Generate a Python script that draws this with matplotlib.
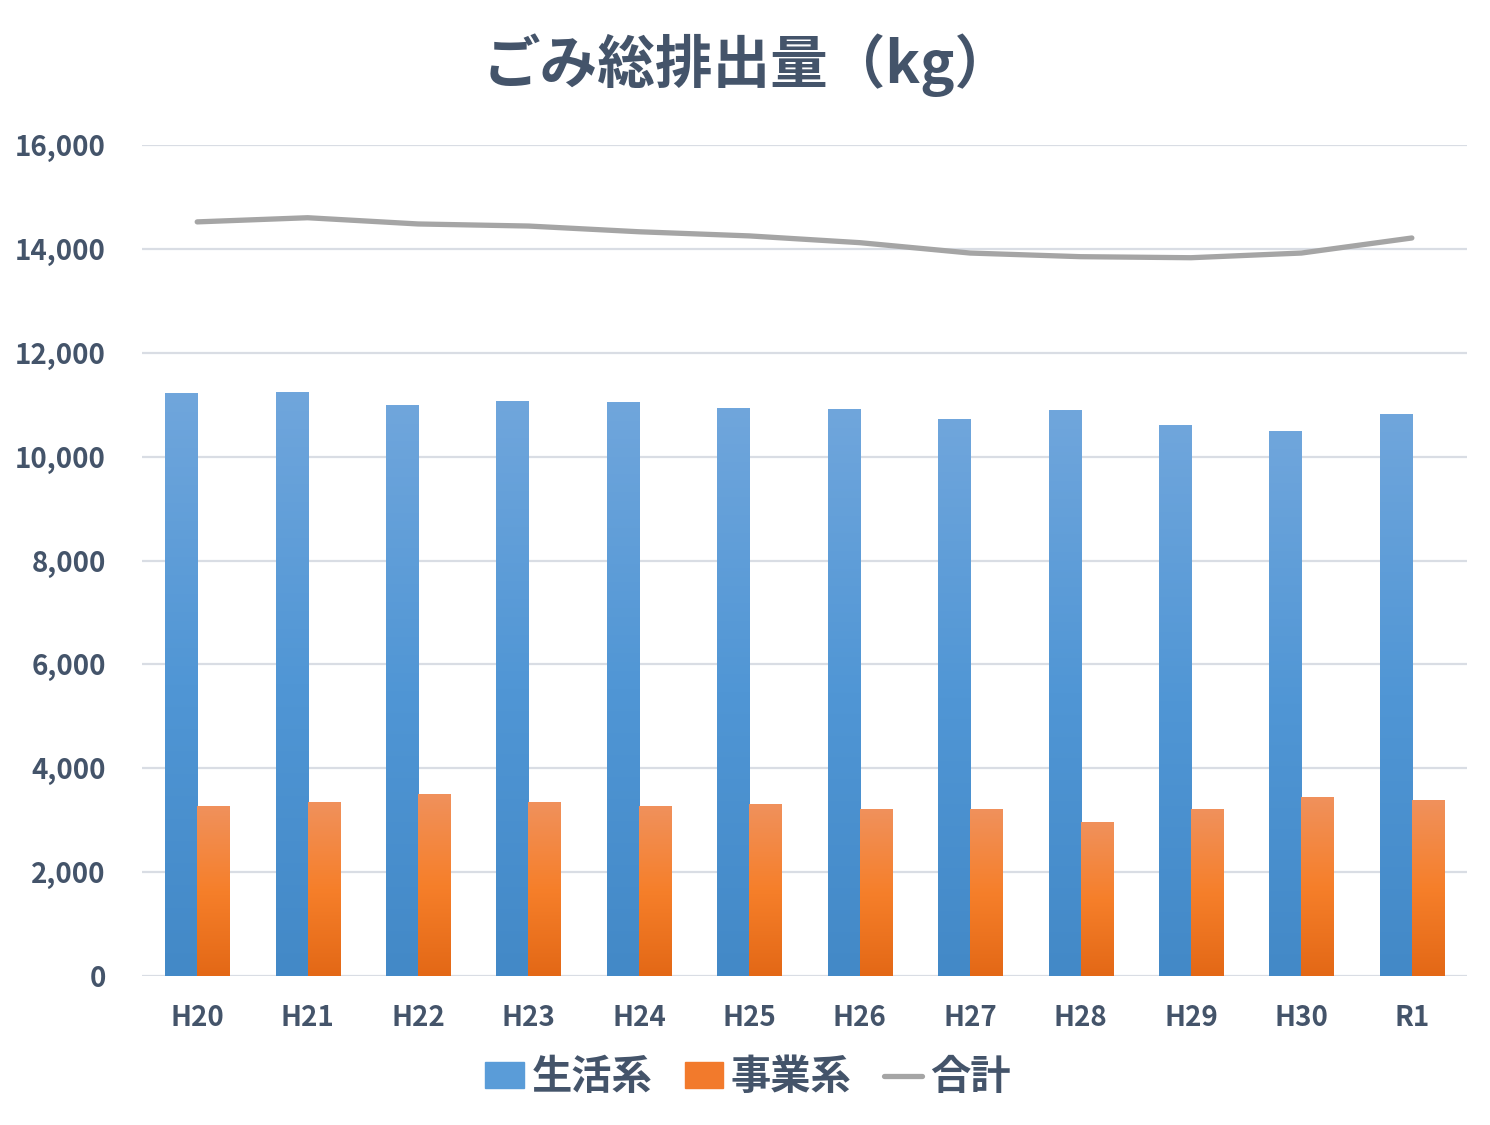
import numpy as np
import matplotlib
matplotlib.use('Agg')
import matplotlib.pyplot as plt
from matplotlib.colors import LinearSegmentedColormap
from matplotlib.patches import Patch
from matplotlib.lines import Line2D
from matplotlib.ticker import FuncFormatter

plt.rcParams['font.family'] = ['Noto Sans CJK JP', 'DejaVu Sans']

years = ['H20', 'H21', 'H22', 'H23', 'H24', 'H25', 'H26', 'H27', 'H28', 'H29', 'H30', 'R1']
seikatsu = [11210, 11230, 10980, 11070, 11050, 10920, 10900, 10710, 10880, 10590, 10480, 10820]
jigyou = [3270, 3350, 3490, 3350, 3260, 3310, 3200, 3200, 2950, 3200, 3430, 3370]
goukei = [14520, 14600, 14480, 14440, 14330, 14250, 14120, 13920, 13850, 13830, 13920, 14210]

text_col = '#44546a'
blue_cmap = LinearSegmentedColormap.from_list('b', ['#4389c7', '#5096d5', '#70a6dc'])
orange_cmap = LinearSegmentedColormap.from_list('o', ['#e36816', '#f67f2a', '#f0915c'])

fig = plt.figure(figsize=(14.9, 11.25), dpi=100)
ax = fig.add_axes([0.0953, 0.1324, 0.8893, 0.7387])

x = np.arange(len(years))
w = 0.29
bars_b = ax.bar(x - w / 2, seikatsu, w, color='#5096d5', zorder=2)
bars_o = ax.bar(x + w / 2, jigyou, w, color='#f67f2a', zorder=2)

# gradient fill on each bar (light top -> dark bottom)
grad = np.linspace(0, 1, 256).reshape(-1, 1)
for bars, cmap in [(bars_b, blue_cmap), (bars_o, orange_cmap)]:
    for b in bars:
        x0, y0 = b.get_x(), b.get_y()
        ax.imshow(grad, cmap=cmap, origin='lower', aspect='auto', zorder=3,
                  extent=(x0, x0 + b.get_width(), y0, y0 + b.get_height()))

ax.plot(x, goukei, color='#a5a5a5', lw=3.8, solid_capstyle='round', zorder=4)

ax.set_xlim(-0.5, len(years) - 0.5)
ax.set_ylim(0, 16000)
ax.set_yticks(range(0, 16001, 2000))
ax.yaxis.set_major_formatter(FuncFormatter(lambda v, p: f'{int(v):,}'))
ax.set_xticks(x)
ax.set_xticklabels(years)
ax.grid(axis='y', color='#d9dde4', lw=1.6, zorder=0)
ax.set_axisbelow(True)
for s in ax.spines.values():
    s.set_visible(False)
ax.tick_params(length=0, labelsize=20, labelcolor=text_col)
ax.tick_params(axis='x', pad=20)
ax.tick_params(axis='y', pad=26)
for lab in ax.get_xticklabels() + ax.get_yticklabels():
    lab.set_fontweight('bold')

fig.text(0.502, 0.942, 'ごみ総排出量（kg）', ha='center', va='center',
         fontsize=41.5, fontweight='bold', color=text_col)

handles = [Patch(color='#5a9cd8', label='生活系'),
           Patch(color='#f27a2c', label='事業系'),
           Line2D([0], [0], color='#a5a5a5', lw=3.8, solid_capstyle='round', label='合計')]
leg = fig.legend(handles=handles, loc='center', bbox_to_anchor=(0.502, 0.042), ncol=3,
                 frameon=False, fontsize=29, handlelength=0.95, handleheight=0.6,
                 handletextpad=0.2, columnspacing=0.8, labelcolor=text_col)
for t in leg.get_texts():
    t.set_fontweight('bold')

fig.savefig('out.png', dpi=100, facecolor='white')
